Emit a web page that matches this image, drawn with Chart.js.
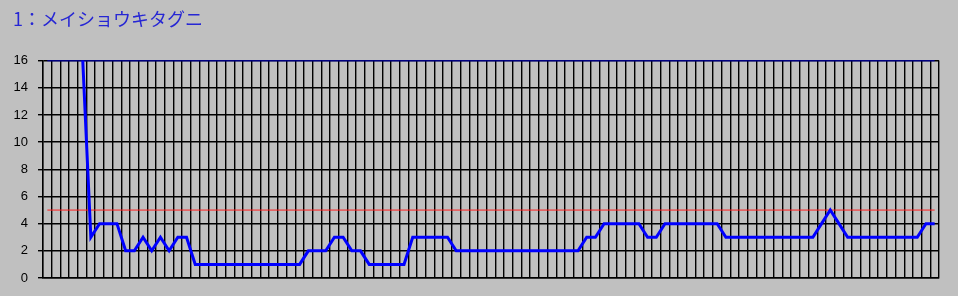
<!DOCTYPE html>
<html>
<head>
<meta charset="utf-8">
<script src="https://cdn.jsdelivr.net/npm/chart.js@4/dist/chart.umd.min.js"></script>
<style>
  html, body { margin: 0; padding: 0; background: #c0c0c0; }
  #wrap { width: 958px; height: 296px; }
</style>
</head>
<body>
<div id="wrap"><canvas id="c" width="958" height="296"></canvas></div>
<script>
// ---- data ----
const titleText = '1：メイショウキタグニ';
const categories = [
  '1','2','3','4','5','6','7','8','9','10','11','12','13','14','15','16','17','18','19','20',
  '21','22','23','24','25','26','27','28','29','30','31','32','33','34','35','36','37','38','39','40',
  '41','42','43','44','45','46','47','48','49','50','51','52','53','54','55','56','57','58','59','60',
  '61','62','63','64','65','66','67','68','69','70','71','72','73','74','75','76','77','78','79','80',
  '81','82','83','84','85','86','87','88','89','90','91','92','93','94','95','96','97','98','99','100',
  '101','102','103'
];
const values = [
  17,17,17,17,17, 3, 4,4,4, 2,2, 3, 2, 3, 2, 3,3,
  1,1,1,1,1,1,1,1,1,1,1,1,1,
  2,2,2, 3,3, 2,2, 1,1,1,1,1, 3,3,3,3,3,
  2,2,2,2,2,2,2,2,2,2,2,2,2,2,2,
  3,3, 4,4,4,4,4, 3,3, 4,4,4,4,4,4,4,
  3,3,3,3,3,3,3,3,3,3,3, 4, 5, 4,
  3,3,3,3,3,3,3,3,3, 4,4
];
const thresholdValue = 5;
const capValue = 16;
const yTicks = [0, 2, 4, 6, 8, 10, 12, 14, 16];

const first = categories[0];
const last = categories[categories.length - 1];

new Chart(document.getElementById('c'), {
  type: 'line',
  data: {
    labels: categories,
    datasets: [
      {
        data: values,
        borderColor: '#0000ff',
        borderWidth: 3,
        pointRadius: 0,
        tension: 0,
        fill: false,
        borderJoinStyle: 'miter'
      },
      {
        data: [{x: first, y: thresholdValue}, {x: last, y: thresholdValue}],
        borderColor: '#ff2020',
        borderWidth: 1,
        pointRadius: 0,
        fill: false
      },
      {
        data: [{x: first, y: capValue}, {x: last, y: capValue}],
        borderColor: '#0000ff',
        borderWidth: 1.5,
        pointRadius: 0,
        fill: false
      }
    ]
  },
  options: {
    responsive: false,
    animation: false,
    devicePixelRatio: 1,
    layout: { padding: { left: 13, right: 19, top: 0, bottom: 18 } },
    plugins: {
      legend: { display: false },
      tooltip: { enabled: false },
      title: {
        display: true,
        text: titleText,
        align: 'start',
        color: '#2626d4',
        font: { family: "'Noto Sans CJK JP', 'Noto Sans', sans-serif", size: 18, weight: 'normal', lineHeight: 1.2 },
        padding: { top: 8, bottom: 31 }
      }
    },
    scales: {
      x: {
        type: 'category',
        offset: true,
        grid: { display: true, offset: true, color: '#000', lineWidth: 1.4, drawTicks: false },
        border: { display: true, color: '#000', width: 1.4 },
        ticks: { display: false },
        afterFit: s => { s.height = 0; }
      },
      y: {
        min: 0,
        max: 16,
        afterBuildTicks: s => { s.ticks = yTicks.map(v => ({ value: v })); },
        grid: { color: '#000', lineWidth: 1.4, drawTicks: true, tickLength: 5, tickColor: '#000' },
        border: { display: true, color: '#000', width: 1.4 },
        ticks: {
          color: '#000',
          padding: 10,
          font: { family: "'Liberation Sans', Arial, sans-serif", size: 13 }
        },
        afterFit: s => { s.width = 30; }
      }
    }
  }
});
</script>
</body>
</html>
